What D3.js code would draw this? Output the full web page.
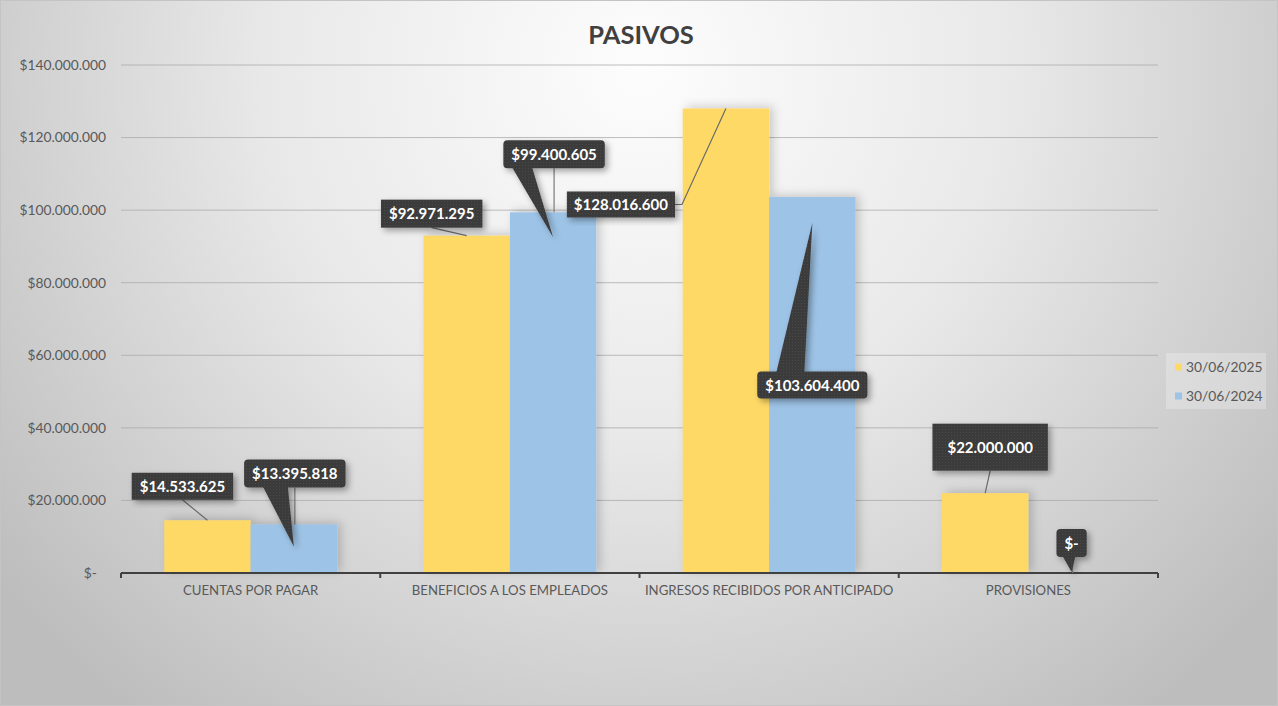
<!DOCTYPE html>
<html><head><meta charset="utf-8">
<script src="https://cdn.jsdelivr.net/npm/d3@7"></script>
<style>html,body{margin:0;padding:0;background:#fff;}svg{display:block;font-family:Lato,"Open Sans",sans-serif;}</style>
</head><body>
<script>
const categories = ["CUENTAS POR PAGAR","BENEFICIOS A LOS EMPLEADOS","INGRESOS RECIBIDOS POR ANTICIPADO","PROVISIONES"];
const seriesNames = ["30/06/2025","30/06/2024"];
const values2025 = [14533625, 92971295, 128016600, 22000000];
const values2024 = [13395818, 99400605, 103604400, 0];
const yTicks = [0,20000000,40000000,60000000,80000000,100000000,120000000,140000000];
const colors = ["#FFD966","#9DC3E6"];

// label layout (offsets from bar top, pixels)
const labelLayout = {
  "0-0":{dx:-25,dy:-34,h:27,pad:8,kind:"line",from:"bottom"},
  "0-1":{dx:1,dy:-51,h:28,pad:8,kind:"wedge",tipDy:22,b0:-32,b1:-7,edge:"bottom",stem:true},
  "1-0":{dx:-35,dy:-22,h:28,pad:8,kind:"line",from:"bottom"},
  "1-1":{dx:1,dy:-58,h:28,pad:8,kind:"wedge",tipDy:25,b0:-42,b1:-22,edge:"bottom",stem:true},
  "2-0":{dx:-105,dy:96,h:26,pad:7,kind:"line",from:"right"},
  "2-1":{dx:0,dy:188,h:27,pad:8,kind:"wedge",tipDy:26,b0:-36,b1:-8,edge:"top",stem:false},
  "3-0":{dx:5,dy:-46,h:47,pad:15,kind:"line",from:"bottom"},
  "3-1":{dx:0,dy:-30,h:28,pad:8,kind:"wedge",tipDy:-1,b0:-9,b1:4,edge:"bottom",stem:true}
};

(function(){
const W=1278,H=706;
const svg=d3.select("body").append("svg").attr("width",W).attr("height",H);
const defs=svg.append("defs");
const rg=defs.append("radialGradient").attr("id","bg").attr("gradientUnits","userSpaceOnUse")
  .attr("cx",640).attr("cy",70).attr("r",820);
rg.append("stop").attr("offset","0").attr("stop-color","#fdfdfd");
rg.append("stop").attr("offset","0.45").attr("stop-color","#e9e9e9");
rg.append("stop").attr("offset","1").attr("stop-color","#bdbdbd");
const sh=defs.append("filter").attr("id","sh").attr("x","-20%").attr("y","-20%").attr("width","150%").attr("height","150%");
sh.append("feDropShadow").attr("dx",3).attr("dy",3).attr("stdDeviation",3).attr("flood-color","#000").attr("flood-opacity",0.35);
const bsh=defs.append("filter").attr("id","bsh").attr("x","-20%").attr("y","-20%").attr("width","150%").attr("height","150%");
bsh.append("feDropShadow").attr("dx",4).attr("dy",-2).attr("stdDeviation",5).attr("flood-color","#000").attr("flood-opacity",0.18);
const pat=defs.append("pattern").attr("id","dots").attr("width",3).attr("height",3).attr("patternUnits","userSpaceOnUse");
pat.append("rect").attr("width",3).attr("height",3).attr("fill","#3b3b3b");
pat.append("rect").attr("width",1).attr("height",1).attr("fill","#4a4a4a");

svg.append("rect").attr("x",0.5).attr("y",0.5).attr("width",W-1).attr("height",H-1).attr("fill","url(#bg)").attr("stroke","#c4c4c4");

svg.append("text").attr("x",641).attr("y",44).attr("text-anchor","middle").attr("font-size",25.5).attr("font-weight","bold").attr("fill","#404040").text("PASIVOS");

const pLeft=121,pRight=1158,pTop=65,pBottom=573;
const x0=d3.scaleBand().domain(categories).range([pLeft,pRight]).padding(0);
const bw=x0.bandwidth();
const x1=d3.scaleBand().domain(seriesNames).range([bw/6,bw*5/6]).padding(0);
const y=d3.scaleLinear().domain([0,140000000]).range([pBottom,pTop]);

const fmt=v=> v===0?"$-":"$"+d3.format(",")(v).replace(/,/g,".");

// grid
svg.append("g").selectAll("line").data(yTicks.filter(d=>d>0)).join("line")
  .attr("x1",pLeft).attr("x2",pRight).attr("y1",d=>y(d)).attr("y2",d=>y(d))
  .attr("stroke","#a8a8a8").attr("stroke-opacity",0.75).attr("stroke-width",1);
// y labels
const yAxis=d3.axisLeft(y).tickValues(yTicks).tickSize(0).tickPadding(0).tickFormat(fmt);
const yg=svg.append("g").attr("transform",`translate(${pLeft-15},0)`).call(yAxis);
yg.select(".domain").remove();
yg.selectAll("text").attr("font-size",13.8).attr("fill","#595959").attr("font-family","Lato,sans-serif")
  .attr("dx",d=>d===0?-9:0);

// bars
const data=categories.map((c,i)=>({c,i,vals:[values2025[i],values2024[i]]}));
const gBars=svg.append("g").attr("filter","url(#bsh)");
data.forEach(d=>{
  d.vals.forEach((v,j)=>{
    gBars.append("rect").attr("x",x0(d.c)+x1(seriesNames[j])).attr("width",x1.bandwidth())
      .attr("y",y(v)).attr("height",pBottom-y(v)).attr("fill",colors[j]);
  });
});

// x axis
const xAxis=d3.axisBottom(x0).tickSize(0).tickPadding(13);
const xg=svg.append("g").attr("transform",`translate(0,${pBottom})`).call(xAxis);
xg.select(".domain").remove();
xg.selectAll("text").attr("font-size",13.2).attr("fill","#595959").attr("font-family","Lato,sans-serif");
svg.append("line").attr("x1",pLeft).attr("x2",pRight).attr("y1",pBottom).attr("y2",pBottom).attr("stroke","#404040").attr("stroke-width",2);
const bounds=categories.map(c=>x0(c)).concat([pRight]);
svg.append("g").selectAll("line").data(bounds).join("line")
  .attr("x1",d=>d).attr("x2",d=>d).attr("y1",pBottom).attr("y2",pBottom+5).attr("stroke","#404040").attr("stroke-width",2);

// labels
const gL=svg.append("g");
data.forEach(d=>{
  d.vals.forEach((v,j)=>{
    const L=labelLayout[d.i+"-"+j];
    const bx=x0(d.c)+x1(seriesNames[j])+x1.bandwidth()/2, by=y(v);
    const cx=bx+L.dx, cy=by+L.dy;
    const g=gL.append("g");
    const t=g.append("text").attr("font-size",15).attr("font-weight","bold").attr("fill","#fff")
      .attr("text-anchor","middle").attr("x",cx).attr("y",cy+5.5).text(fmt(v));
    const tw=t.node().getComputedTextLength();
    const w=tw+2*L.pad, h=L.h;
    const bxL=cx-w/2, byT=cy-h/2;
    if(L.kind==="line"){
      let pts;
      if(L.from==="bottom") pts=[[cx,byT+h],[bx,by]];
      else pts=[[bxL+w,cy],[bxL+w+7,cy],[bx,by]];
      g.insert("path","text").attr("d",d3.line()(pts)).attr("fill","none").attr("stroke","#6b6b6b").attr("stroke-width",1.2);
      g.insert("rect","text").attr("x",bxL).attr("y",byT).attr("width",w).attr("height",h).attr("fill","url(#dots)").attr("filter","url(#sh)");
    } else {
      if(L.stem){
        g.insert("line","text").attr("x1",bx+1).attr("x2",bx+1).attr("y1",byT+h).attr("y2",by).attr("stroke","#7a7a7a").attr("stroke-width",1.2);
      }
      const ey=L.edge==="bottom"?byT+h-1:byT+1;
      const tip=[bx,by+L.tipDy];
      const sg=g.insert("g","text").attr("filter","url(#sh)");
      sg.append("path").attr("d",d3.line()([[cx+L.b0,ey],[cx+L.b1,ey],tip])+"Z").attr("fill","url(#dots)");
      sg.append("rect").attr("x",bxL).attr("y",byT).attr("width",w).attr("height",h).attr("rx",4).attr("fill","url(#dots)");
    }
  });
});

// legend
const lg=svg.append("g");
lg.append("rect").attr("x",1166).attr("y",353).attr("width",100).attr("height",56).attr("fill","#fff").attr("fill-opacity",0.25);
seriesNames.forEach((s,j)=>{
  const yy=367+j*29;
  lg.append("rect").attr("x",1175).attr("y",yy-3.5).attr("width",7).attr("height",7).attr("fill",colors[j]);
  lg.append("text").attr("x",1186).attr("y",yy+5).attr("font-size",13.8).attr("fill","#595959").text(s);
});
})();
</script>
</body></html>
